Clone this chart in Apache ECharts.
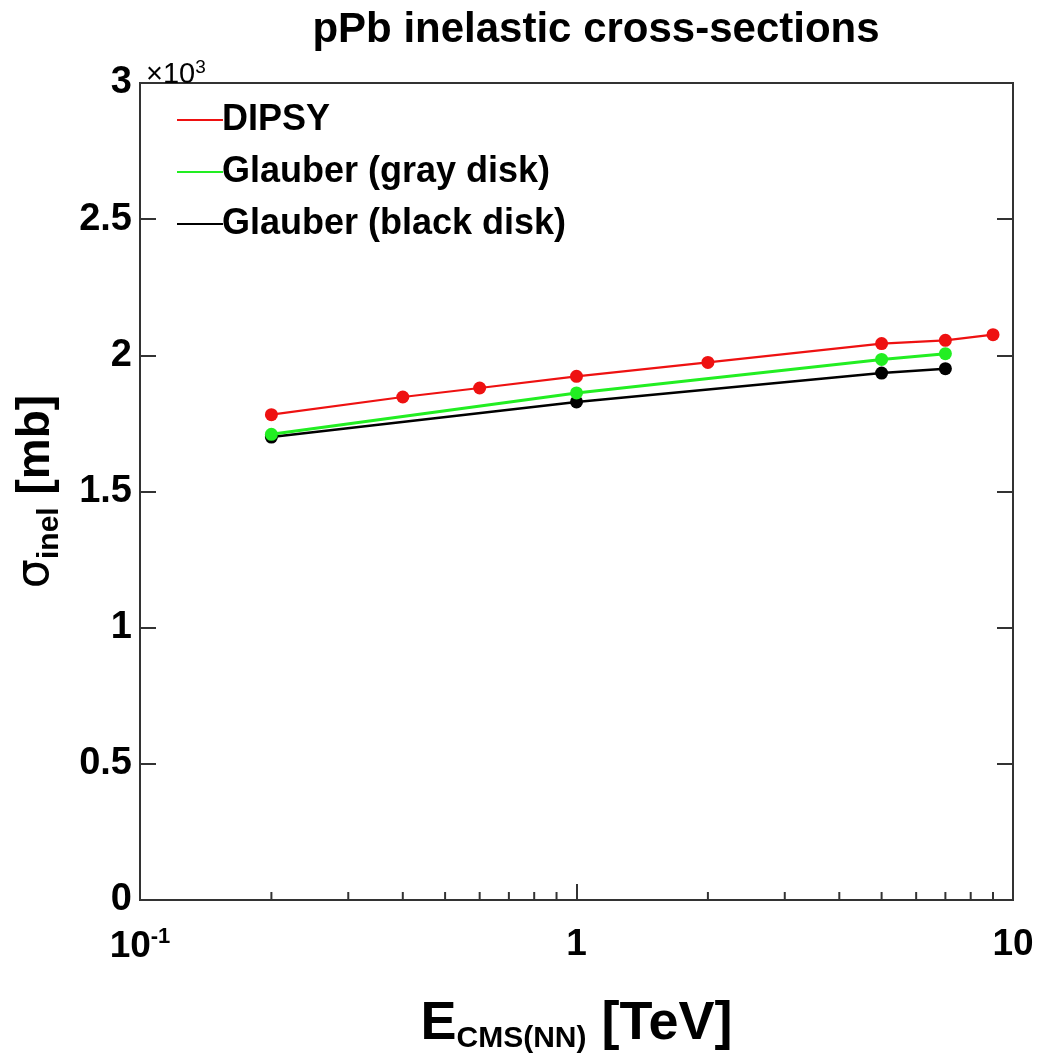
<!DOCTYPE html>
<html>
<head>
<meta charset="utf-8">
<script src="https://cdn.jsdelivr.net/npm/echarts@6/dist/echarts.min.js"></script>
<style>html,body{margin:0;padding:0;background:#fff;}#c{width:1037px;height:1063px;}</style>
</head>
<body>
<div id="c"></div>
<script>
// Energies (TeV) and inelastic cross-sections (mb)
const dipsyE = [0.2, 0.4, 0.6, 1, 2, 5, 7, 9];
const dipsySigma = [1782, 1847, 1880, 1923, 1974, 2043, 2055, 2076];
const grayE = [0.2, 1, 5, 7];
const graySigma = [1710, 1862, 1985, 2006];
const blackE = [0.2, 1, 5, 7];
const blackSigma = [1700, 1829, 1935, 1951];
const minorTicksX = [0.2, 0.3, 0.4, 0.5, 0.6, 0.7, 0.8, 0.9, 2, 3, 4, 5, 6, 7, 8, 9];

const FONT = 'Liberation Sans, Arial, sans-serif';
const axisCol = '#333';

function pairs(xs, ys) { return xs.map((x, i) => [x, ys[i]]); }

const chart = echarts.init(document.getElementById('c'));
chart.setOption({
  backgroundColor: '#fff',
  animation: false,
  title: {
    text: 'pPb inelastic cross-sections',
    left: 591, top: 4, textAlign: 'center',
    textStyle: { fontFamily: FONT, fontWeight: 'bold', fontSize: 42, color: '#000' }
  },
  grid: {
    left: 140, right: 24, top: 83, bottom: 163, containLabel: false, outerBoundsMode: 'none',
    show: true, borderColor: axisCol, borderWidth: 2, backgroundColor: 'transparent'
  },
  legend: {
    data: ['DIPSY', 'Glauber (gray disk)', 'Glauber (black disk)'],
    orient: 'vertical', left: 172, top: 97,
    icon: 'rect', itemWidth: 46, itemHeight: 2, itemGap: 16,
    textStyle: { fontFamily: FONT, fontWeight: 'bold', fontSize: 36, color: '#000', padding: [0,0,0,-6] }
  },
  xAxis: {
    type: 'log', logBase: 10, min: 0.1, max: 10,
    name: '{b|E}{s|CMS(NN)}{b| [TeV]}',
    nameLocation: 'middle', nameGap: 94,
    nameTextStyle: {
      rich: {
        b: { fontFamily: FONT, fontWeight: 'bold', fontSize: 54, color: '#000', lineHeight: 60 },
        s: { fontFamily: FONT, fontWeight: 'bold', fontSize: 30, color: '#000', lineHeight: 60, padding: [30,0,0,0] }
      }
    },
    axisLine: { lineStyle: { color: axisCol, width: 2 } },
    axisTick: { inside: true, length: 16, lineStyle: { color: axisCol, width: 2 } },
    splitLine: { show: false },
    axisLabel: {
      margin: 26,
      formatter: function (v) {
        const e = Math.round(Math.log10(v));
        if (e < 0) return '{n|10}{p|' + e + '}';
        return '{n|' + Math.round(Math.pow(10, e)) + '}';
      },
      rich: {
        n: { fontFamily: FONT, fontWeight: 'bold', fontSize: 37, color: '#000' },
        p: { fontFamily: FONT, fontWeight: 'bold', fontSize: 22, color: '#000', padding: [0,0,20,0] }
      }
    }
  },
  yAxis: [{
    type: 'value', min: 0, max: 3000, interval: 500,
    name: '{g|σ}{s|inel}{b| [mb]}',
    nameLocation: 'middle', nameGap: 75, nameRotate: 90,
    nameTextStyle: {
      rich: {
        g: { fontFamily: 'DejaVu Sans, sans-serif', fontSize: 46, color: '#000', lineHeight: 58 },
        b: { fontFamily: FONT, fontWeight: 'bold', fontSize: 46, color: '#000', lineHeight: 58 },
        s: { fontFamily: FONT, fontWeight: 'bold', fontSize: 30, color: '#000', lineHeight: 58, padding: [28,0,0,0] }
      }
    },
    axisLine: { show: true, lineStyle: { color: axisCol, width: 2 } },
    axisTick: { show: true, inside: true, length: 16, lineStyle: { color: axisCol, width: 2 } },
    splitLine: { show: false },
    axisLabel: {
      margin: 8,
      fontFamily: FONT, fontWeight: 'bold', fontSize: 38, color: '#000',
      formatter: function (v) { return String(v / 1000); }
    }
  }, {
    type: 'value', min: 0, max: 3000, interval: 500, position: 'right',
    axisLine: { show: true, lineStyle: { color: axisCol, width: 2 } },
    axisTick: { show: true, inside: true, length: 16, lineStyle: { color: axisCol, width: 2 } },
    axisLabel: { show: false }, splitLine: { show: false }
  }],
  graphic: [{
    type: 'text', left: 146, top: 58,
    style: {
      text: '{t|×10}{e|3}',
      rich: {
        t: { fontFamily: FONT, fontSize: 29, fill: '#000' },
        e: { fontFamily: FONT, fontSize: 19, fill: '#000', padding: [0,0,14,0] }
      }
    }
  }],
  series: [
    {
      type: 'custom', silent: true, clip: false, z: 1,
      data: minorTicksX.map(v => [v, 0]),
      renderItem: function (params, api) {
        const p = api.coord([api.value(0), api.value(1)]);
        return { type: 'line', shape: { x1: p[0], y1: p[1], x2: p[0], y2: p[1] - 8 }, style: { stroke: axisCol, lineWidth: 2 } };
      }
    },
    {
      name: 'Glauber (black disk)', type: 'line', data: pairs(blackE, blackSigma),
      color: '#000', symbol: 'circle', symbolSize: 13, z: 3,
      lineStyle: { width: 2.5, color: '#000' }, itemStyle: { color: '#000' }
    },
    {
      name: 'Glauber (gray disk)', type: 'line', data: pairs(grayE, graySigma),
      color: '#22ee22', symbol: 'circle', symbolSize: 13, z: 4,
      lineStyle: { width: 3, color: '#22ee22' }, itemStyle: { color: '#22ee22' }
    },
    {
      name: 'DIPSY', type: 'line', data: pairs(dipsyE, dipsySigma),
      color: '#ee1111', symbol: 'circle', symbolSize: 13, z: 5,
      lineStyle: { width: 2.2, color: '#ee1111' }, itemStyle: { color: '#ee1111' }
    }
  ]
});
</script>
</body>
</html>
